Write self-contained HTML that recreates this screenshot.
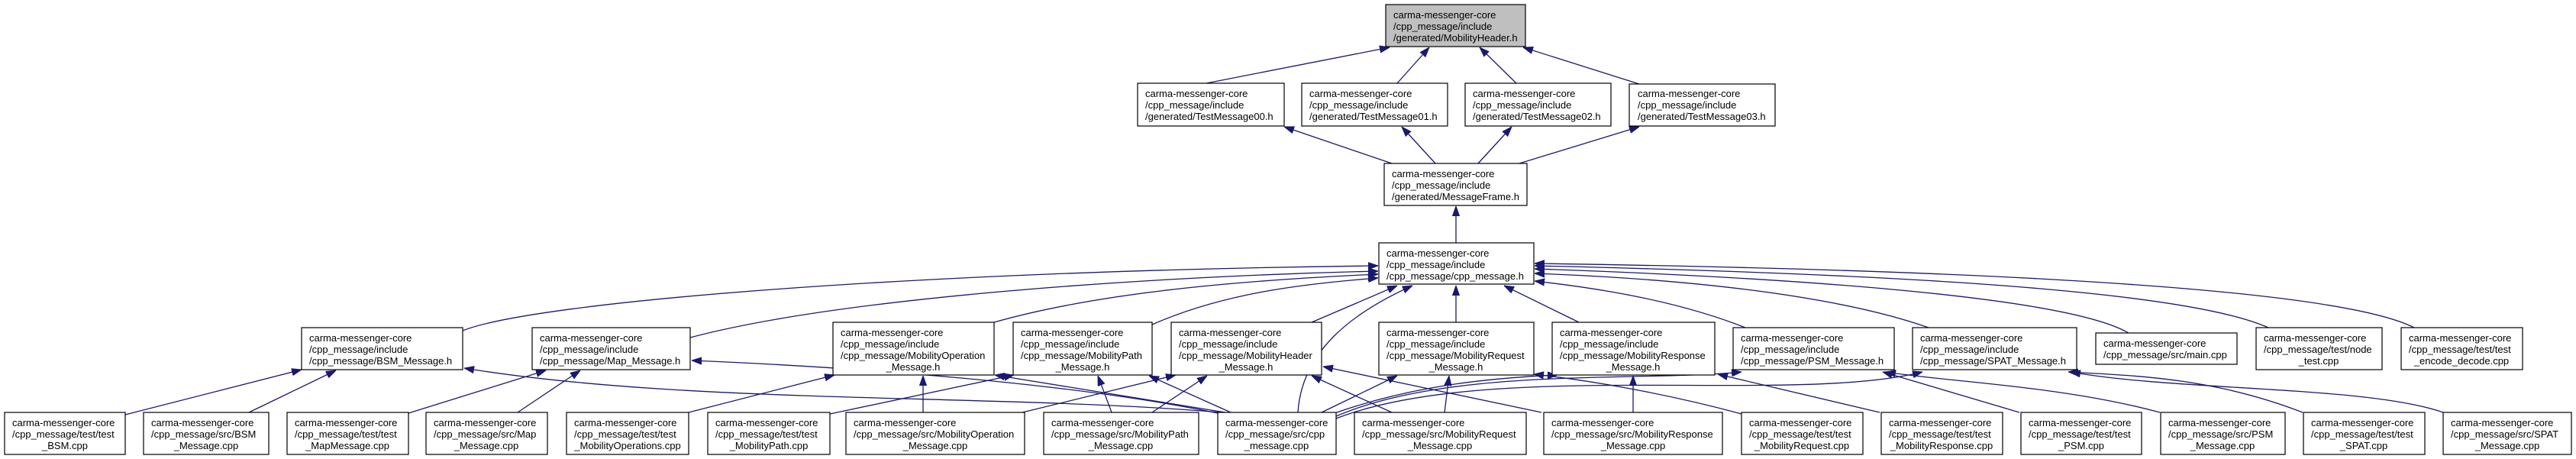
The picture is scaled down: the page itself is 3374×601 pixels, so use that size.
<!DOCTYPE html>
<html><head><meta charset="utf-8"><style>
html,body{margin:0;padding:0;background:#fff;}
svg{display:block;}
text{font-family:"Liberation Sans",Arial,sans-serif;font-size:13px;fill:#000;}
.n{fill:#fff;stroke:#000;stroke-width:1.2;}
.g{fill:#bfbfbf;stroke:#000;stroke-width:1.2;}
.e{fill:none;stroke:#191970;stroke-width:1.3;marker-end:url(#a);}
</style></head><body>
<svg width="3374" height="601" viewBox="0 0 3374 601" xmlns="http://www.w3.org/2000/svg">
<defs><marker id="a" viewBox="0 0 14 10" refX="14" refY="5" markerWidth="13" markerHeight="10" markerUnits="userSpaceOnUse" orient="auto"><path d="M0,0 L14,5 L0,10 z" fill="#191970" stroke="#191970"/></marker></defs>

<g>
<path class="e" d="M1580,109 L1820,62"/>
<path class="e" d="M1830,109 L1872,62"/>
<path class="e" d="M1986,109 L1938,62"/>
<path class="e" d="M2147,110 L1995,62"/>
<path class="e" d="M1823,214 L1682,166"/>
<path class="e" d="M1880,214 L1836,166"/>
<path class="e" d="M1936,214 L1980,166"/>
<path class="e" d="M1990,214 L2147,166"/>
<path class="e" d="M1907,318 L1907,270"/>

<path class="e" d="M606,433 C700,395 1200,355 1805,348"/>
<path class="e" d="M904,442 C1100,390 1500,362 1805,355"/>
<path class="e" d="M1302,422 C1450,380 1650,366 1805,359"/>
<path class="e" d="M1509,425 C1600,385 1700,372 1805,364"/>
<path class="e" d="M1718,422 L1830,374"/>
<path class="e" d="M1700,540 C1705,460 1770,410 1850,374"/>
<path class="e" d="M1907,422 L1907,374"/>
<path class="e" d="M2068,422 L1970,374"/>
<path class="e" d="M2286,429 C2200,395 2100,378 2010,368"/>
<path class="e" d="M2526,429 C2400,385 2200,365 2010,358"/>
<path class="e" d="M2788,436 C2700,385 2300,362 2010,352"/>
<path class="e" d="M2971,429 C2850,375 2400,357 2010,348"/>
<path class="e" d="M3162,429 C3050,372 2500,352 2010,345"/>

<path class="e" d="M164,543 L395,484"/>
<path class="e" d="M326,540 L440,485"/>
<path class="e" d="M535,541 L715,485"/>
<path class="e" d="M678,540 L760,485"/>
<path class="e" d="M902,540 L1093,491"/>
<path class="e" d="M1087,542 L1328,491"/>
<path class="e" d="M1209,540 L1209,492"/>
<path class="e" d="M1339,540 L1540,491"/>
<path class="e" d="M1456,540 L1438,492"/>
<path class="e" d="M1509,540 L1581,492"/>
<path class="e" d="M1600,540 C1300,515 900,530 608,482"/>
<path class="e" d="M1600,542 C1400,500 1100,480 906,472"/>
<path class="e" d="M1605,540 L1303,491"/>
<path class="e" d="M1612,540 L1505,492"/>
<path class="e" d="M1731,540 L1830,492"/>
<path class="e" d="M1748,541 C1850,505 1950,495 2040,491"/>
<path class="e" d="M1750,545 C1900,480 2150,500 2281,487"/>
<path class="e" d="M1750,548 C1950,470 2350,530 2518,487"/>
<path class="e" d="M1823,540 L1718,492"/>
<path class="e" d="M1892,540 L1898,492"/>
<path class="e" d="M2019,540 L1733,480"/>
<path class="e" d="M2139,540 L2139,492"/>
<path class="e" d="M2281,542 C2200,520 2100,500 2009,490"/>
<path class="e" d="M2462,540 L2250,490"/>
<path class="e" d="M2645,540 L2466,487"/>
<path class="e" d="M2829,540 C2700,505 2550,500 2470,487"/>
<path class="e" d="M3016,540 C2900,495 2800,492 2709,487"/>
<path class="e" d="M3200,540 C3100,505 2850,512 2712,487"/>
</g>

<rect class="g" x="1815" y="6" width="183" height="55"/>
<text x="1825" y="24">carma-messenger-core</text><text x="1825" y="39">/cpp_message/include</text><text x="1825" y="54">/generated/MobilityHeader.h</text>

<rect class="n" x="1490" y="109" width="192" height="56"/>
<text x="1500" y="127">carma-messenger-core</text><text x="1500" y="142">/cpp_message/include</text><text x="1500" y="157">/generated/TestMessage00.h</text>
<rect class="n" x="1705" y="109" width="191" height="56"/>
<text x="1715" y="127">carma-messenger-core</text><text x="1715" y="142">/cpp_message/include</text><text x="1715" y="157">/generated/TestMessage01.h</text>
<rect class="n" x="1919" y="109" width="191" height="56"/>
<text x="1929" y="127">carma-messenger-core</text><text x="1929" y="142">/cpp_message/include</text><text x="1929" y="157">/generated/TestMessage02.h</text>
<rect class="n" x="2134" y="110" width="191" height="55"/>
<text x="2145" y="127">carma-messenger-core</text><text x="2145" y="142">/cpp_message/include</text><text x="2145" y="157">/generated/TestMessage03.h</text>

<rect class="n" x="1813" y="214" width="187" height="55"/>
<text x="1823" y="232">carma-messenger-core</text><text x="1823" y="247">/cpp_message/include</text><text x="1823" y="262">/generated/MessageFrame.h</text>

<rect class="n" x="1806" y="318" width="203" height="54"/>
<text x="1816" y="336">carma-messenger-core</text><text x="1816" y="351">/cpp_message/include</text><text x="1816" y="366">/cpp_message/cpp_message.h</text>

<rect class="n" x="395" y="429" width="211" height="55"/>
<text x="405" y="447">carma-messenger-core</text><text x="405" y="462">/cpp_message/include</text><text x="405" y="477">/cpp_message/BSM_Message.h</text>
<rect class="n" x="697" y="429" width="207" height="55"/>
<text x="707" y="447">carma-messenger-core</text><text x="707" y="462">/cpp_message/include</text><text x="707" y="477">/cpp_message/Map_Message.h</text>
<rect class="n" x="2270" y="429" width="211" height="55"/>
<text x="2280" y="447">carma-messenger-core</text><text x="2280" y="462">/cpp_message/include</text><text x="2280" y="477">/cpp_message/PSM_Message.h</text>
<rect class="n" x="2505" y="429" width="215" height="55"/>
<text x="2515" y="447">carma-messenger-core</text><text x="2515" y="462">/cpp_message/include</text><text x="2515" y="477">/cpp_message/SPAT_Message.h</text>
<rect class="n" x="2745" y="436" width="185" height="41"/>
<text x="2755" y="454">carma-messenger-core</text><text x="2755" y="469">/cpp_message/src/main.cpp</text>
<rect class="n" x="2955" y="429" width="165" height="55"/>
<text x="2965" y="447">carma-messenger-core</text><text x="2965" y="462">/cpp_message/test/node</text><text x="3037" y="477" text-anchor="middle">_test.cpp</text>
<rect class="n" x="3145" y="429" width="159" height="55"/>
<text x="3155" y="447">carma-messenger-core</text><text x="3155" y="462">/cpp_message/test/test</text><text x="3224" y="477" text-anchor="middle">_encode_decode.cpp</text>

<rect class="n" x="1091" y="422" width="211" height="69"/>
<text x="1101" y="440">carma-messenger-core</text><text x="1101" y="455">/cpp_message/include</text><text x="1101" y="470">/cpp_message/MobilityOperation</text><text x="1196" y="485" text-anchor="middle">_Message.h</text>
<rect class="n" x="1327" y="422" width="182" height="69"/>
<text x="1337" y="440">carma-messenger-core</text><text x="1337" y="455">/cpp_message/include</text><text x="1337" y="470">/cpp_message/MobilityPath</text><text x="1418" y="485" text-anchor="middle">_Message.h</text>
<rect class="n" x="1534" y="422" width="197" height="69"/>
<text x="1544" y="440">carma-messenger-core</text><text x="1544" y="455">/cpp_message/include</text><text x="1544" y="470">/cpp_message/MobilityHeader</text><text x="1632" y="485" text-anchor="middle">_Message.h</text>
<rect class="n" x="1806" y="422" width="203" height="69"/>
<text x="1816" y="440">carma-messenger-core</text><text x="1816" y="455">/cpp_message/include</text><text x="1816" y="470">/cpp_message/MobilityRequest</text><text x="1907" y="485" text-anchor="middle">_Message.h</text>
<rect class="n" x="2033" y="422" width="213" height="69"/>
<text x="2043" y="440">carma-messenger-core</text><text x="2043" y="455">/cpp_message/include</text><text x="2043" y="470">/cpp_message/MobilityResponse</text><text x="2139" y="485" text-anchor="middle">_Message.h</text>

<rect class="n" x="6" y="540" width="158" height="55"/>
<text x="16" y="558">carma-messenger-core</text><text x="16" y="573">/cpp_message/test/test</text><text x="85" y="588" text-anchor="middle">_BSM.cpp</text>
<rect class="n" x="188" y="540" width="164" height="55"/>
<text x="198" y="558">carma-messenger-core</text><text x="198" y="573">/cpp_message/src/BSM</text><text x="270" y="588" text-anchor="middle">_Message.cpp</text>
<rect class="n" x="376" y="540" width="159" height="55"/>
<text x="386" y="558">carma-messenger-core</text><text x="386" y="573">/cpp_message/test/test</text><text x="455" y="588" text-anchor="middle">_MapMessage.cpp</text>
<rect class="n" x="558" y="540" width="159" height="55"/>
<text x="568" y="558">carma-messenger-core</text><text x="568" y="573">/cpp_message/src/Map</text><text x="637" y="588" text-anchor="middle">_Message.cpp</text>
<rect class="n" x="742" y="540" width="160" height="55"/>
<text x="752" y="558">carma-messenger-core</text><text x="752" y="573">/cpp_message/test/test</text><text x="822" y="588" text-anchor="middle">_MobilityOperations.cpp</text>
<rect class="n" x="927" y="540" width="160" height="55"/>
<text x="937" y="558">carma-messenger-core</text><text x="937" y="573">/cpp_message/test/test</text><text x="1007" y="588" text-anchor="middle">_MobilityPath.cpp</text>
<rect class="n" x="1108" y="540" width="234" height="55"/>
<text x="1118" y="558">carma-messenger-core</text><text x="1118" y="573">/cpp_message/src/MobilityOperation</text><text x="1225" y="588" text-anchor="middle">_Message.cpp</text>
<rect class="n" x="1367" y="540" width="203" height="55"/>
<text x="1377" y="558">carma-messenger-core</text><text x="1377" y="573">/cpp_message/src/MobilityPath</text><text x="1468" y="588" text-anchor="middle">_Message.cpp</text>
<rect class="n" x="1595" y="540" width="155" height="55"/>
<text x="1605" y="558">carma-messenger-core</text><text x="1605" y="573">/cpp_message/src/cpp</text><text x="1672" y="588" text-anchor="middle">_message.cpp</text>
<rect class="n" x="1774" y="540" width="225" height="55"/>
<text x="1784" y="558">carma-messenger-core</text><text x="1784" y="573">/cpp_message/src/MobilityRequest</text><text x="1886" y="588" text-anchor="middle">_Message.cpp</text>
<rect class="n" x="2022" y="540" width="234" height="55"/>
<text x="2032" y="558">carma-messenger-core</text><text x="2032" y="573">/cpp_message/src/MobilityResponse</text><text x="2139" y="588" text-anchor="middle">_Message.cpp</text>
<rect class="n" x="2281" y="540" width="159" height="55"/>
<text x="2291" y="558">carma-messenger-core</text><text x="2291" y="573">/cpp_message/test/test</text><text x="2360" y="588" text-anchor="middle">_MobilityRequest.cpp</text>
<rect class="n" x="2464" y="540" width="159" height="55"/>
<text x="2474" y="558">carma-messenger-core</text><text x="2474" y="573">/cpp_message/test/test</text><text x="2543" y="588" text-anchor="middle">_MobilityResponse.cpp</text>
<rect class="n" x="2647" y="540" width="158" height="55"/>
<text x="2657" y="558">carma-messenger-core</text><text x="2657" y="573">/cpp_message/test/test</text><text x="2726" y="588" text-anchor="middle">_PSM.cpp</text>
<rect class="n" x="2830" y="540" width="163" height="55"/>
<text x="2840" y="558">carma-messenger-core</text><text x="2840" y="573">/cpp_message/src/PSM</text><text x="2911" y="588" text-anchor="middle">_Message.cpp</text>
<rect class="n" x="3017" y="540" width="159" height="55"/>
<text x="3027" y="558">carma-messenger-core</text><text x="3027" y="573">/cpp_message/test/test</text><text x="3096" y="588" text-anchor="middle">_SPAT.cpp</text>
<rect class="n" x="3200" y="540" width="168" height="55"/>
<text x="3210" y="558">carma-messenger-core</text><text x="3210" y="573">/cpp_message/src/SPAT</text><text x="3284" y="588" text-anchor="middle">_Message.cpp</text>
</svg>
</body></html>
